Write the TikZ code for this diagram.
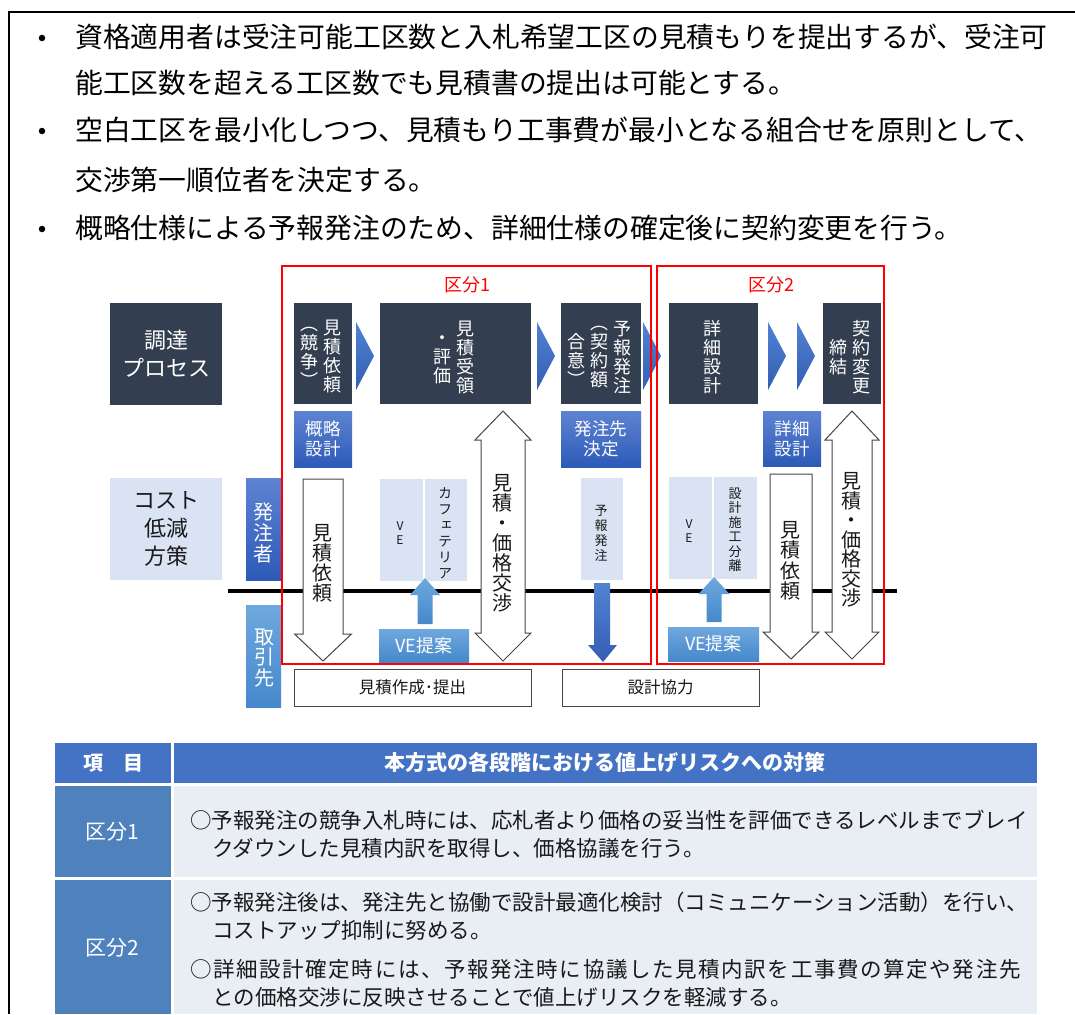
\documentclass[tikz,border=0pt]{standalone}
\usepackage{fontspec}
\setmainfont{Noto Sans CJK JP}
\newfontfamily\vfont[RawFeature=+vert]{Noto Sans CJK JP}
\definecolor{navy}{RGB}{51,63,80}
\definecolor{chevtop}{RGB}{82,130,210}
\definecolor{chevbot}{RGB}{52,94,180}
\definecolor{bluetop}{RGB}{94,131,210}
\definecolor{bluebot}{RGB}{45,90,184}
\definecolor{lightbg}{RGB}{218,227,243}
\definecolor{skytop}{RGB}{110,168,222}
\definecolor{skybot}{RGB}{70,136,204}
\definecolor{hdr}{RGB}{68,114,196}
\definecolor{colone}{RGB}{79,129,189}
\definecolor{cellbg}{RGB}{233,237,244}
\definecolor{outl}{RGB}{70,70,70}
\definecolor{txt}{RGB}{25,25,25}
\newcommand{\rbox}[6]{%
  \node[#1, inner sep=0pt, outer sep=0pt, minimum width={#5pt-#3pt}, minimum height={#6pt-#4pt}] (#2) at ({(#3+#5)/2},{(#4+#6)/2}) {};}
\newcommand{\downarr}[6]{% cx, half body, half head, top y, head base y, tip y
  \path[blockarrow] ({#1-#2},#4) -- ({#1+#2},#4) -- ({#1+#2},#5) -- ({#1+#3},#5) -- (#1,#6) -- ({#1-#3},#5) -- ({#1-#2},#5) -- cycle;}
\newcommand{\dblarr}[7]{% cx, half body, half head, top tip, top base, bottom base, bottom tip
  \path[blockarrow] (#1,#4) -- ({#1+#3},#5) -- ({#1+#2},#5) -- ({#1+#2},#6) -- ({#1+#3},#6) -- (#1,#7) -- ({#1-#3},#6) -- ({#1-#2},#6) -- ({#1-#2},#5) -- ({#1-#3},#5) -- cycle;}
\newcommand{\uparr}[6]{% cx, half body, half head, tip, head base, bottom
  \shade[top color=skytop,bottom color=skybot] (#1,#4) -- ({#1+#3},#5) -- ({#1+#2},#5) -- ({#1+#2},#6) -- ({#1-#2},#6) -- ({#1-#2},#5) -- ({#1-#3},#5) -- cycle;}
\newcommand{\chevron}[2]{% x left, x tip
  \shade[top color=chevtop,bottom color=chevbot] (#1,322) -- (#2,356) -- (#1,390) -- cycle;}
\begin{document}
\begin{tikzpicture}[x=1pt,y=-1pt,
  navybox/.style={fill=navy},
  bluebox/.style={top color=bluetop,bottom color=bluebot},
  lightbox/.style={fill=lightbg},
  skybox/.style={top color=skytop,bottom color=skybot},
  wbox/.style={fill=white,draw=outl,line width=1pt},
  redframe/.style={draw=red,line width=1.8pt},
  blockarrow/.style={fill=white,draw=outl,line width=1pt},
  ht/.style 2 args={align=center,inner sep=0pt,font=\fontsize{#1}{#2}\selectfont},
  vt/.style 2 args={align=center,inner sep=0pt,font=\vfont\fontsize{#1}{#2}\selectfont},
  bt/.style={anchor=west,inner sep=0pt,text=black,font=\fontsize{27.8}{30}\selectfont},
  rt/.style={anchor=west,inner sep=0pt,text=txt,font=\fontsize{21.5}{24}\selectfont},
  dot/.style={circle,fill=black,inner sep=0pt,minimum size=6.5pt}]
\useasboundingbox (0,0) rectangle (1075,1014);
% frame
\coordinate (F1) at (9,1014); \coordinate (F2) at (9,12); \coordinate (F3) at (1075,12);
\draw[line width=2.5pt] (F1) -- (F2) -- (F3);
% bullets
\node[dot] (b1) at (42,38) {};
\node[dot] (b2) at (42,131) {};
\node[dot] (b3) at (42,229) {};
\node[bt] (l1) at (75,37) {資格適用者は受注可能工区数と入札希望工区の見積もりを提出するが、受注可};
\node[bt] (l2) at (75,83) {能工区数を超える工区数でも見積書の提出は可能とする。};
\node[bt] (l3) at (75,130) {空白工区を最小化しつつ、見積もり工事費が最小となる組合せを原則として、};
\node[bt] (l4) at (75,180) {交渉第一順位者を決定する。};
\node[bt] (l5) at (75,228) {概略仕様による予報発注のため、詳細仕様の確定後に契約変更を行う。};
% axis line
\coordinate (A1) at (228,591); \coordinate (A2) at (897,591);
\draw[line width=4pt] (A1) -- (A2);
% left lane
\rbox{navybox}{proc}{110}{303}{222}{405}
\node[ht={22}{28},white] (proct) at (proc) {調達\\プロセス};
\rbox{lightbox}{cost}{110}{478}{222}{580}
\node[ht={22}{28},text=txt] (costt) at (cost) {コスト\\低減\\方策};
\rbox{bluebox}{hacchu}{246}{478}{281}{580}
\node[vt={20}{21},white] (hacchut) at (263,533) {発\\注\\者};
\rbox{skybox}{tori}{246}{605}{281}{707}
\node[vt={20}{20.5},white] (torit) at (264,658) {取\\引\\先};
% process boxes
\rbox{navybox}{p1}{294}{303}{352}{404}
\node[vt={18}{19},white] (p1a) at (332,357) {見\\積\\依\\頼};
\node[vt={18}{19},white] (p1b) at (309,357) {︵\\競\\争\\︶};
\chevron{356}{374}
\rbox{navybox}{p2}{380}{303}{531}{404}
\node[vt={18}{19},white] (p2a) at (465,357) {見\\積\\受\\領};
\node[vt={18}{19},white] (p2b) at (442,360) {・\\評\\価};
\chevron{537}{555}
\rbox{navybox}{p3}{561}{303}{641}{404}
\node[vt={18}{19},white] (p3a) at (622,357) {予\\報\\発\\注};
\node[vt={18}{19},white] (p3b) at (599,357) {︵\\契\\約\\額};
\node[vt={18}{19},white] (p3c) at (576,360) {合\\意\\︶};
\chevron{643}{661}
\rbox{navybox}{p4}{669}{303}{758}{404}
\node[vt={18}{19},white] (p4a) at (712,357) {詳\\細\\設\\計};
\chevron{768}{786}
\chevron{797}{815}
\rbox{navybox}{p5}{823}{303}{881}{404}
\node[vt={18}{19},white] (p5a) at (861,357) {契\\約\\変\\更};
\node[vt={18}{19},white] (p5b) at (838,357) {締\\結};
% blue boxes
\rbox{bluebox}{q1}{294}{411}{352}{467}
\node[ht={17.5}{20},white] (q1t) at (q1) {概略\\設計};
\rbox{bluebox}{q3}{561}{411}{641}{467}
\node[ht={17.5}{20},white] (q3t) at (q3) {発注先\\決定};
\rbox{bluebox}{q5}{763}{411}{821}{466}
\node[ht={17.5}{20},white] (q5t) at (q5) {詳細\\設計};
% section 1 content
\downarr{323}{20}{28.5}{479}{634}{661}
\node[vt={20}{20},text=txt] (a1t) at (322,563) {見\\積\\依\\頼};
\rbox{lightbox}{ve1}{380}{479}{423}{581}
\node[vt={12}{14},text=txt] (ve1t) at (400,533) {V\\E};
\rbox{lightbox}{caf}{425}{479}{467}{581}
\node[vt={14}{16},text=txt] (caft) at (445,533) {カ\\フ\\ェ\\テ\\リ\\ア};
\uparr{425}{7.5}{15}{578}{595}{624}
\rbox{skybox}{vep1}{379}{629}{469}{662}
\node[ht={18}{20},white] (vep1t) at (vep1) {VE提案};
\dblarr{503}{22}{28}{411}{440}{633}{661}
\node[vt={20}{20},text=txt] (d1t) at (502,543) {見\\積\\・\\価\\格\\交\\渉};
\rbox{lightbox}{yh}{581}{478}{623}{580}
\node[vt={13}{15},text=txt] (yht) at (601,533) {予\\報\\発\\注};
\shade[top color=chevtop,bottom color=chevbot] (594,583) -- (610,583) -- (610,645) -- (617,645) -- (603,662) -- (588,645) -- (594,645) -- cycle;
% section 2 content
\rbox{lightbox}{ve2}{669}{477}{712}{579}
\node[vt={12}{14},text=txt] (ve2t) at (689,531) {V\\E};
\rbox{lightbox}{sep}{714}{477}{757}{579}
\node[vt={13}{14.5},text=txt] (sept) at (735,530) {設\\計\\施\\工\\分\\離};
\uparr{714}{7.5}{15.5}{577}{594}{622}
\rbox{skybox}{vep2}{668}{627}{759}{661}
\node[ht={18}{20},white] (vep2t) at (vep2) {VE提案};
\downarr{791}{21}{28}{474}{632}{659}
\node[vt={20}{20.5},text=txt] (a2t) at (790,561) {見\\積\\依\\頼};
\dblarr{852}{20}{27}{411}{440}{632}{659}
\node[vt={20}{19.5},text=txt] (d2t) at (851,540) {見\\積\\・\\価\\格\\交\\渉};
% bottom boxes
\rbox{wbox}{est}{294}{669}{531}{706}
\node[ht={16.5}{18},text=txt] (estt) at (est) {見積作成･提出};
\rbox{wbox}{coop}{562}{669}{759}{706}
\node[ht={16.5}{18},text=txt] (coopt) at (coop) {設計協力};
% red frames
\rbox{redframe}{k1}{282}{266}{651}{664}
\rbox{redframe}{k2}{657}{266}{884}{664}
\node[ht={18}{20},text=red] (k1t) at (467,285) {区分1};
\node[ht={18}{20},text=red] (k2t) at (771,285) {区分2};
% table
\rbox{fill=hdr}{h1}{55}{743}{171}{783}
\rbox{fill=hdr}{h2}{174}{743}{1037}{783}
\rbox{fill=colone}{r1a}{55}{786}{171}{877}
\rbox{fill=cellbg}{r1b}{174}{786}{1037}{877}
\rbox{fill=colone}{r2a}{55}{880}{171}{1014}
\rbox{fill=cellbg}{r2b}{174}{880}{1037}{1014}
\node[ht={20}{22},white,font=\bfseries\fontsize{20}{22}\selectfont] (h1t) at (h1) {項　目};
\node[ht={21}{22},white,font=\bfseries\fontsize{21}{22}\selectfont] (h2t) at (605,763) {本方式の各段階における値上げリスクへの対策};
\node[ht={21}{22},white] (r1at) at (112,832) {区分1};
\node[ht={21}{22},white] (r2at) at (112,948) {区分2};
\node[rt] (t1) at (190,820) {○予報発注の競争入札時には、応札者より価格の妥当性を評価できるレベルまでブレイ};
\node[rt] (t2) at (212,848) {クダウンした見積内訳を取得し、価格協議を行う。};
\node[rt] (t3) at (190,902) {○予報発注後は、発注先と協働で設計最適化検討（コミュニケーション活動）を行い、};
\node[rt] (t4) at (212,930) {コストアップ抑制に努める。};
\node[rt] (t5) at (190,969) {\addfontfeature{LetterSpace=7.5}○詳細設計確定時には、予報発注時に協議した見積内訳を工事費の算定や発注先};
\node[rt] (t6) at (212,997) {との価格交渉に反映させることで値上げリスクを軽減する。};
\end{tikzpicture}
\end{document}
